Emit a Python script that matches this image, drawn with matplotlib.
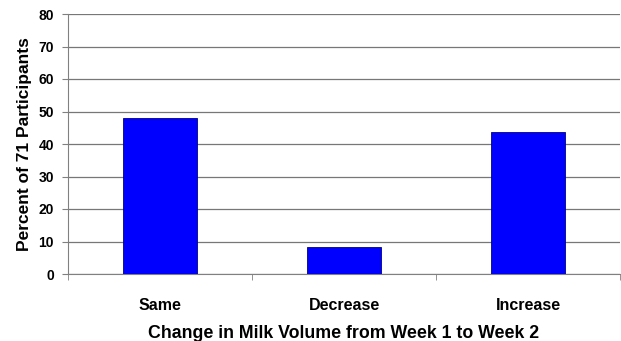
import matplotlib.pyplot as plt
import numpy as np

plt.rcParams['font.family'] = ['Liberation Sans', 'DejaVu Sans']

categories = ["Same", "Decrease", "Increase"]
percents = [47.9, 8.45, 43.66]
y_ticks = [0, 10, 20, 30, 40, 50, 60, 70, 80]

fig = plt.figure(figsize=(6.21, 3.41), dpi=100)
ax = fig.add_axes([68 / 621, 1 - 274 / 341, 552 / 621, 260 / 341])

x = np.arange(len(categories))
ax.bar(x, percents, width=0.4, color="#0000ff", edgecolor="#000080", linewidth=0.6, zorder=3)

ax.set_xlim(-0.5, len(categories) - 0.5)
ax.set_ylim(0, 80)
ax.set_yticks(y_ticks)
ax.yaxis.grid(True, color="#777777", linewidth=0.9, zorder=0)

ax.set_xticks(x)
ax.set_xticklabels(categories, fontsize=11.5, fontweight="bold")
ax.set_xticks(np.arange(-0.5, len(categories)), minor=True)
ax.tick_params(axis="x", which="major", length=0, pad=17)
ax.tick_params(axis="x", which="minor", length=4, color="#808080")
ax.tick_params(axis="y", length=4, color="#808080", labelsize=10, pad=6)
for lbl in ax.get_yticklabels():
    lbl.set_fontweight("bold")

for side in ["top", "right"]:
    ax.spines[side].set_visible(False)
for side in ["left", "bottom"]:
    ax.spines[side].set_color("#808080")

ax.set_ylabel("Percent of 71 Participants", fontsize=12.5, fontweight="bold", labelpad=5)
ax.set_xlabel("Change in Milk Volume from Week 1 to Week 2", fontsize=12.8, fontweight="bold", labelpad=9)

fig.savefig("out.png", dpi=100)
